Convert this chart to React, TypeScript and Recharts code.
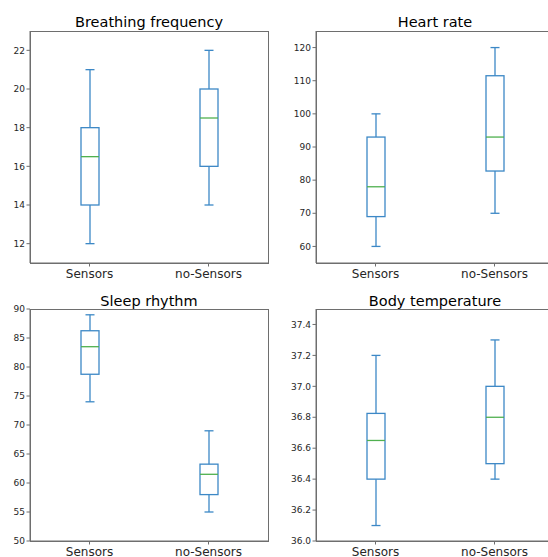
import React from 'react';
import { ComposedChart, Bar, XAxis, YAxis } from 'recharts';

// Five-number summaries per group: [min, q1, median, q3, max]
const groups = ['Sensors', 'no-Sensors'];

const breathingSensors = [12, 14, 16.5, 18, 21];
const breathingNoSensors = [14, 16, 18.5, 20, 22];

const heartSensors = [60, 69, 78, 93, 100];
const heartNoSensors = [70, 82.75, 93, 111.5, 120];

const sleepSensors = [74, 78.75, 83.5, 86.25, 89];
const sleepNoSensors = [55, 58, 61.5, 63.25, 69];

const tempSensors = [36.1, 36.4, 36.65, 36.825, 37.2];
const tempNoSensors = [36.4, 36.5, 36.8, 37.0, 37.3];

const breathingTicks = [12, 14, 16, 18, 20, 22];
const heartTicks = [60, 70, 80, 90, 100, 110, 120];
const sleepTicks = [50, 55, 60, 65, 70, 75, 80, 85, 90];
const tempTicks = [36.0, 36.2, 36.4, 36.6, 36.8, 37.0, 37.2, 37.4];

const BOX = '#3c88c6';
const MEDIAN = '#4fb04f';
const FRAME = '#6e6e6e';
const TEXT = '#262626';
const FONT = '"DejaVu Sans", Verdana, sans-serif';
const LW = 1.3;

const CHART_W = 274;
const CHART_H = 280;
const PLOT_LEFT = 30;
const PLOT_TOP = 31;
const PLOT_W = 238;
const PLOT_H = 232;

const makeRows = (a: number[], b: number[]) =>
  groups.map((g, i) => {
    const stats = i === 0 ? a : b;
    return { group: g, stats, range: [stats[0], stats[4]] };
  });

// Draws a box-and-whisker glyph inside the band given by the range bar.
const BoxShape = (props: any) => {
  const { x, y, width, height, payload } = props;
  const [min, q1, median, q3, max] = payload.stats as number[];
  const toY = (v: number) => y + ((max - v) / (max - min)) * height;
  const cx = x + width / 2;
  const cap = width / 4;
  return (
    <g>
      <line x1={cx} x2={cx} y1={toY(max)} y2={toY(q3)} stroke={BOX} strokeWidth={LW} />
      <line x1={cx} x2={cx} y1={toY(q1)} y2={toY(min)} stroke={BOX} strokeWidth={LW} />
      <line x1={cx - cap} x2={cx + cap} y1={toY(max)} y2={toY(max)} stroke={BOX} strokeWidth={LW} />
      <line x1={cx - cap} x2={cx + cap} y1={toY(min)} y2={toY(min)} stroke={BOX} strokeWidth={LW} />
      <rect
        x={x}
        y={toY(q3)}
        width={width}
        height={toY(q1) - toY(q3)}
        fill="none"
        stroke={BOX}
        strokeWidth={LW}
      />
      <line x1={x} x2={x + width} y1={toY(median)} y2={toY(median)} stroke={MEDIAN} strokeWidth={LW} />
    </g>
  );
};

type PanelProps = {
  left: number;
  top: number;
  title: string;
  rows: any[];
  ticks: number[];
  domain: [number, number];
  fmt?: (v: number) => string;
};

const Panel = ({ left, top, title, rows, ticks, domain, fmt }: PanelProps) => (
  <>
    <div
      style={{
        position: 'absolute',
        left: left + PLOT_LEFT,
        top: top + 14.3,
        width: PLOT_W,
        textAlign: 'center',
        fontFamily: FONT,
        fontSize: 14.5,
        lineHeight: '16px',
        color: '#000',
        whiteSpace: 'nowrap',
      }}
    >
      {title}
    </div>
    <div style={{ position: 'absolute', left, top }}>
      <ComposedChart
        width={CHART_W}
        height={CHART_H}
        data={rows}
        margin={{ top: PLOT_TOP, right: 6, bottom: 0, left: 0 }}
      >
        <XAxis
          dataKey="group"
          height={17}
          tickSize={3.5}
          tickMargin={2.5}
          stroke={FRAME}
          tick={{ fontSize: 12, fill: TEXT, fontFamily: FONT }}
          axisLine={{ stroke: FRAME }}
          tickLine={{ stroke: FRAME }}
        />
        <YAxis
          type="number"
          domain={domain}
          ticks={ticks}
          allowDataOverflow
          width={PLOT_LEFT}
          tickSize={3.5}
          tickMargin={1.5}
          interval={0}
          tickFormatter={fmt}
          tick={{ fontSize: 9, fill: TEXT, fontFamily: FONT }}
          axisLine={{ stroke: FRAME }}
          tickLine={{ stroke: FRAME }}
        />
        <Bar dataKey="range" barSize={18} shape={BoxShape} isAnimationActive={false} />
      </ComposedChart>
    </div>
    {/* axes frame around the plot area */}
    <div
      style={{
        position: 'absolute',
        left: left + PLOT_LEFT - 0.5,
        top: top + PLOT_TOP - 0.5,
        width: PLOT_W + 1,
        height: PLOT_H + 1,
        boxSizing: 'border-box',
        border: `1px solid ${FRAME}`,
        pointerEvents: 'none',
      }}
    />
  </>
);

export default function App() {
  return (
    <div
      style={{
        position: 'absolute',
        left: 0,
        top: 0,
        width: 548,
        height: 557,
        overflow: 'hidden',
        background: '#fff',
      }}
    >
      <Panel
        left={0}
        top={0}
        title="Breathing frequency"
        rows={makeRows(breathingSensors, breathingNoSensors)}
        ticks={breathingTicks}
        domain={[11, 23]}
      />
      <Panel
        left={286}
        top={0}
        title="Heart rate"
        rows={makeRows(heartSensors, heartNoSensors)}
        ticks={heartTicks}
        domain={[55, 125]}
      />
      <Panel
        left={0}
        top={278.3}
        title="Sleep rhythm"
        rows={makeRows(sleepSensors, sleepNoSensors)}
        ticks={sleepTicks}
        domain={[50, 90]}
      />
      <Panel
        left={286}
        top={278.3}
        title="Body temperature"
        rows={makeRows(tempSensors, tempNoSensors)}
        ticks={tempTicks}
        domain={[36.0, 37.5]}
        fmt={(v: number) => v.toFixed(1)}
      />
    </div>
  );
}
